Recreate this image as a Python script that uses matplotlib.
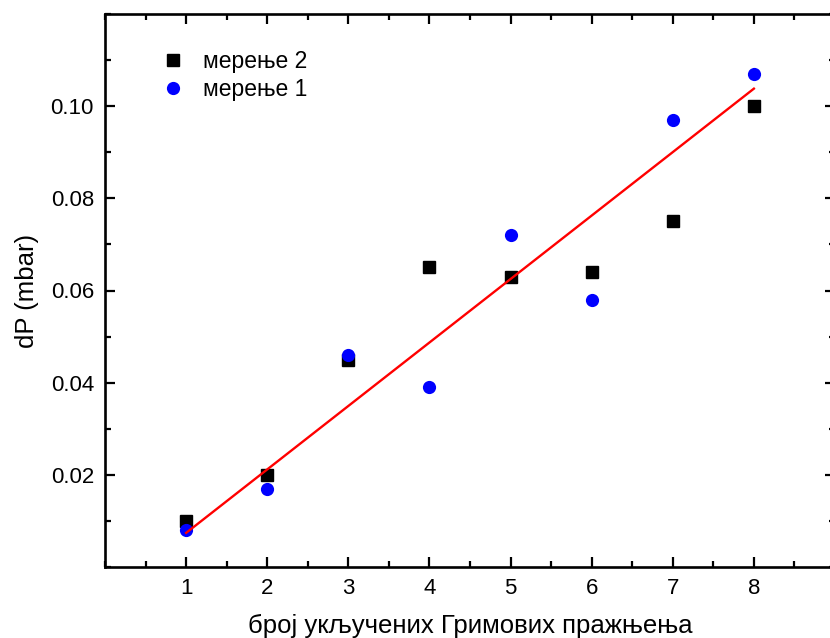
import matplotlib
import numpy as np
from matplotlib import pyplot as plt
from matplotlib.ticker import MultipleLocator

matplotlib.use("Agg")

plt.rcParams["font.family"] = ["Liberation Sans", "DejaVu Sans"]

discharges = np.array([1, 2, 3, 4, 5, 6, 7, 8])
run2_dp = np.array([0.010, 0.020, 0.045, 0.065, 0.063, 0.064, 0.075, 0.100])
run1_dp = np.array([0.008, 0.017, 0.046, 0.039, 0.072, 0.058, 0.097, 0.107])
fit_x = np.array([1, 8])
fit_y = np.array([0.0074, 0.1038])

labels = ("мерење 2", "мерење 1")
x_label = "број укључених Гримових пражњења"
y_label = "dP (mbar)"

fig = plt.figure(figsize=(8.3, 6.38), dpi=100)
ax = fig.add_axes([105 / 830, 1 - 567 / 638, 730 / 830, 553 / 638])

ax.plot(discharges, run2_dp, "s", color="black", ms=8, label=labels[0], zorder=3)
ax.plot(discharges, run1_dp, "o", color="#0000ff", ms=9.5, mec="none", label=labels[1], zorder=4)
ax.plot(fit_x, fit_y, color="#ff0000", lw=1.7, zorder=5)

ax.set_xlim(0, 9)
ax.set_ylim(0, 0.12)
ax.set_xticks(discharges)
ax.set_yticks([0.02, 0.04, 0.06, 0.08, 0.10])
ax.set_yticklabels(["0.02", "0.04", "0.06", "0.08", "0.10"])
ax.xaxis.set_minor_locator(MultipleLocator(0.5))
ax.yaxis.set_minor_locator(MultipleLocator(0.01))
ax.tick_params(which="both", direction="in", top=True, right=True, width=1.6, labelsize=16, pad=8)
ax.tick_params(which="major", length=7)
ax.tick_params(which="minor", length=4)
for spine in ax.spines.values():
    spine.set_linewidth(1.9)

ax.set_xlabel(x_label, fontsize=18.5, labelpad=11)
ax.set_ylabel(y_label, fontsize=18.5, labelpad=8)

ax.legend(
    loc="upper left",
    bbox_to_anchor=(0.049, 0.972),
    frameon=False,
    fontsize=16.5,
    handletextpad=0.8,
    labelspacing=0.22,
    handlelength=1.0,
)

fig.savefig("out.png", dpi=100)
plt.close(fig)
